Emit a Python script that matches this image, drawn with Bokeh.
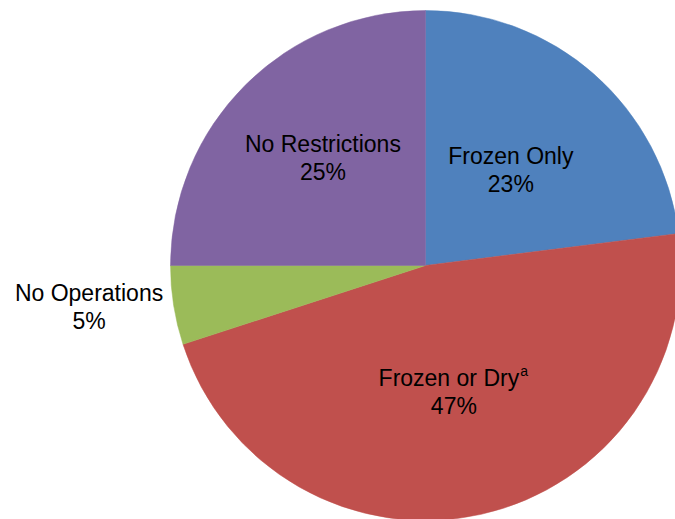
import numpy as np
from bokeh.plotting import figure
from bokeh.models import ColumnDataSource
from bokeh.core.properties import value
from bokeh.embed import file_html
from bokeh.resources import INLINE

# Share of sites by operating restriction
categories = ["Frozen Only", "Frozen or Dry", "No Operations", "No Restrictions"]
shares = [23, 47, 5, 25]
footnote_marks = ["", "a", "", ""]
colors = ["#4F81BD", "#C0504D", "#9BBB59", "#8064A2"]

W, H = 675, 519
CX, CY, R = 425, 254, 255          # pie centre and radius (plot units == pixels)
label_radius = [0.50, 0.51, 1.32, 0.58]  # label distance as a fraction of R
label_nudge = [(1, 0), (0, 0), (-4, 11), (2, 3)]  # small pixel tweaks (x right, y up)
FONT = "Liberation Sans"
FS = 23

vals = np.array(shares, dtype=float)
frac = vals / vals.sum()
cum = np.cumsum(frac)
start = np.pi / 2 - 2 * np.pi * (cum - frac)
end = np.pi / 2 - 2 * np.pi * cum
mid = (start + end) / 2

lx = CX + np.array(label_radius) * R * np.cos(mid) + np.array([n[0] for n in label_nudge])
ly = CY + np.array(label_radius) * R * np.sin(mid) + np.array([n[1] for n in label_nudge])

src = ColumnDataSource(dict(
    cat=categories, start=start, end=end, color=colors,
    lx=lx, ly=ly, pct=[f"{s}%" for s in shares],
))

p = figure(width=W, height=H, x_range=(0, W), y_range=(0, H),
           x_axis_type=None, y_axis_type=None, toolbar_location=None,
           output_backend="svg", min_border=0)
p.grid.visible = False
p.outline_line_color = None
p.background_fill_color = "white"
p.border_fill_color = "white"

p.wedge(x=CX, y=CY, radius=R, start_angle="start", end_angle="end",
        direction="clock", fill_color="color", line_color="color",
        line_width=0.5, source=src)

# category names (first line) and percentages (second line)
name_shift = [0, -5, 0, 0]
src.data["nx"] = [x + s for x, s in zip(lx, name_shift)]
p.text(x="nx", y="ly", text="cat", source=src, text_align="center",
       text_baseline="middle", y_offset=-14, text_font=value(FONT),
       text_font_size=f"{FS}px", text_color="black")
p.text(x="lx", y="ly", text="pct", source=src, text_align="center",
       text_baseline="middle", y_offset=14, text_font=value(FONT),
       text_font_size=f"{FS}px", text_color="black")

# superscript footnote marker after the category name
approx_half_width = [len(c) * FS * 0.235 for c in categories]
fn = ColumnDataSource(dict(
    x=[x + s + hw + 1 for x, s, hw, m in zip(lx, name_shift, approx_half_width, footnote_marks) if m],
    y=[y for y, m in zip(ly, footnote_marks) if m],
    t=[m for m in footnote_marks if m],
))
p.text(x="x", y="y", text="t", source=fn, text_align="left",
       text_baseline="middle", y_offset=-21, text_font=value(FONT),
       text_font_size="14px", text_color="black")

open("out.html", "w").write(file_html(p, INLINE))
